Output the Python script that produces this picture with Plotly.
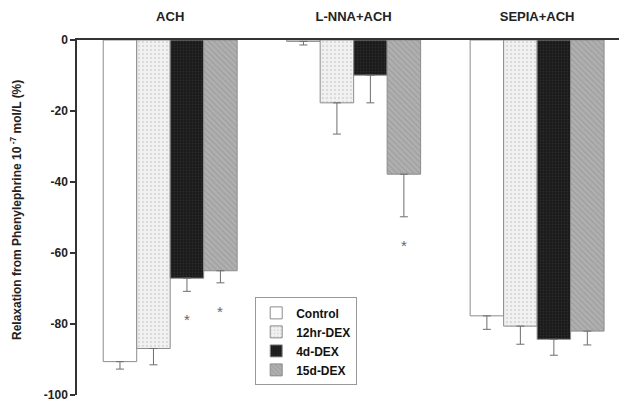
import plotly.graph_objects as go

groups = ["ACH", "L-NNA+ACH", "SEPIA+ACH"]
series = ["Control", "12hr-DEX", "4d-DEX", "15d-DEX"]
values = {
    "Control":  [-90.6, -0.4, -77.7],
    "12hr-DEX": [-86.9, -17.7, -80.6],
    "4d-DEX":   [-67.1, -9.9, -84.3],
    "15d-DEX":  [-65.0, -37.8, -82.0],
}
errors = {
    "Control":  [2.1, 1.0, 3.8],
    "12hr-DEX": [4.6, 8.8, 5.1],
    "4d-DEX":   [3.7, 7.8, 4.5],
    "15d-DEX":  [3.4, 12.0, 3.9],
}
significant = {
    "Control":  [False, False, False],
    "12hr-DEX": [False, False, False],
    "4d-DEX":   [True, False, False],
    "15d-DEX":  [True, True, False],
}
y_ticks = [0, -20, -40, -60, -80, -100]

styles = {
    "Control":  dict(color="#ffffff", pattern=dict(shape="")),
    "12hr-DEX": dict(color="#f2f2f2", pattern=dict(shape=".", fgcolor="#c4c4c4", size=4, solidity=0.3)),
    "4d-DEX":   dict(color="#1a1a1a", pattern=dict(shape=".", fgcolor="#3a3a3a", size=3, solidity=0.3)),
    "15d-DEX":  dict(color="#b0b0b0", pattern=dict(shape="\\", fgcolor="#8a8a8a", size=4, solidity=0.3)),
}

FONT = "Arial, Liberation Sans, sans-serif"
x_idx = list(range(len(groups)))
bargap = 0.27
bw = (1 - bargap) / len(series)

fig = go.Figure()
for s in series:
    st = styles[s]
    fig.add_trace(go.Bar(
        name=s, x=x_idx, y=values[s],
        marker=dict(color=st["color"], pattern=st["pattern"],
                    line=dict(color="#8c8c8c", width=1)),
        error_y=dict(type="data", symmetric=False,
                     array=[0] * len(groups), arrayminus=errors[s],
                     color="#6e6e6e", thickness=1, width=4),
    ))

annotations = []
for si, s in enumerate(series):
    for gi in x_idx:
        if significant[s][gi]:
            xpos = gi + (si - (len(series) - 1) / 2) * bw
            ypos = values[s][gi] - errors[s][gi] - 7.5
            annotations.append(dict(x=xpos, y=ypos, xref="x", yref="y",
                                    text="*", showarrow=False,
                                    font=dict(family=FONT, size=15, color="#666666"),
                                    yanchor="middle", yshift=-2))

annotations.append(dict(
    x=-0.111, y=0.521, xref="paper", yref="paper", textangle=-90,
    text="<b>Relaxation from Phenylephrine 10<sup> -7</sup> mol/L (%)</b>",
    showarrow=False, font=dict(family=FONT, size=12, color="#222222"),
    xanchor="center", yanchor="middle"))

# page body has an 8px default margin; figure is offset accordingly
fig.update_layout(
    width=619, height=400,
    margin=dict(l=69, r=0, t=32, b=13, autoexpand=False),
    paper_bgcolor="white", plot_bgcolor="white",
    barmode="group", bargap=bargap, bargroupgap=0,
    showlegend=True,
    legend=dict(x=0.324, y=0.275, xanchor="left", yanchor="top",
                bordercolor="#999999", borderwidth=1, bgcolor="white",
                font=dict(family=FONT, size=12, color="#111111", weight="bold"),
                tracegroupgap=0),
    annotations=annotations,
    xaxis=dict(range=[-0.508, 2.49], side="top", tickvals=x_idx, ticktext=groups,
               showline=True, linecolor="#333333", linewidth=1.5, ticks="",
               showgrid=False, zeroline=False, ticklabelstandoff=12, automargin=False,
               tickfont=dict(family=FONT, size=13, color="#222222", weight="bold")),
    yaxis=dict(range=[-100, 0], tickvals=y_ticks, ticktext=[str(v) for v in y_ticks],
               showline=True, linecolor="#333333", linewidth=1.5, automargin=False,
               ticks="outside", ticklen=5, tickcolor="#333333", tickwidth=1.5,
               showgrid=False, zeroline=False, ticklabeloverflow="allow",
               tickfont=dict(family=FONT, size=12, color="#222222", weight="bold")),
)

fig.write_html("out.html")
